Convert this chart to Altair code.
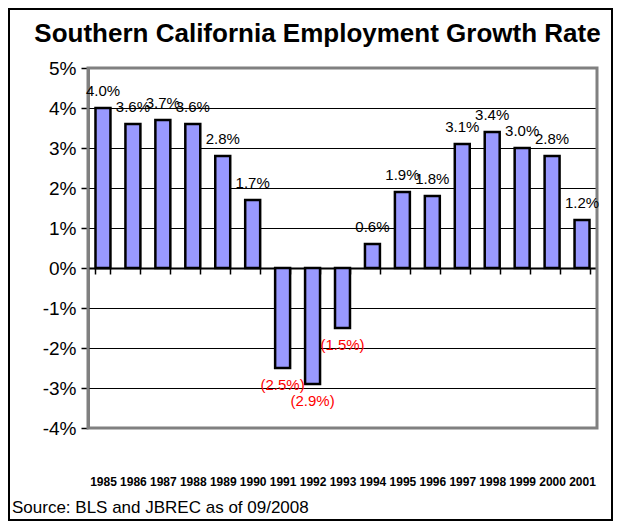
import altair as alt
import pandas as pd

years = [str(y) for y in range(1985, 2002)]
growth = [4.0, 3.6, 3.7, 3.6, 2.8, 1.7, -2.5, -2.9, -1.5, 0.6, 1.9, 1.8, 3.1, 3.4, 3.0, 2.8, 1.2]
y_ticks = [-4, -3, -2, -1, 0, 1, 2, 3, 4, 5]
title_text = ["Southern California Employment Growth Rate"]
source_text = ["Source: BLS and JBREC as of 09/2008"]

df = pd.DataFrame({"year": years, "growth": growth})
df["label"] = [f"{v:.1f}%" if v >= 0 else f"({abs(v):.1f}%)" for v in growth]

FONT = "Liberation Sans"
W, H = 509, 360
ymin, ymax = -4, 5
zero_offset = -(0 - ymin) / (ymax - ymin) * H

x = alt.X(
    "year:N", sort=years,
    scale=alt.Scale(paddingInner=0.5, paddingOuter=0.25),
    axis=alt.Axis(
        title=None, offset=zero_offset, grid=False,
        domainColor="black", domainWidth=2,
        tickColor="black", tickWidth=1.5, tickSize=6, tickBand="extent",
        labelAngle=0, labelFont=FONT, labelFontSize=12, labelFontWeight="bold",
        labelColor="black", labelPadding=202, labelBaseline="top",
    ),
)
y = alt.Y(
    "growth:Q",
    scale=alt.Scale(domain=[ymin, ymax], nice=False, zero=False),
    axis=alt.Axis(
        title=None, values=y_ticks, labelExpr="datum.value + '%'",
        grid=True, gridColor="black", gridWidth=1, labelOverlap=False,
        domainColor="black", domainWidth=2,
        tickColor="black", tickWidth=1.5, tickSize=7,
        labelFont=FONT, labelFontSize=19, labelColor="black", labelPadding=5,
    ),
)

border = alt.Chart(pd.DataFrame({"t": [0]})).mark_rect(
    fill=None, stroke="#808080", strokeWidth=3
).encode(x=alt.value(0), x2=alt.value(W), y=alt.value(0), y2=alt.value(H))

base = alt.Chart(df)
bars = base.mark_bar(fill="#9999FF", stroke="black", strokeWidth=2.5).encode(
    x=x, y=y, y2=alt.datum(0)
)
pos_lbl = base.transform_filter("datum.growth >= 0").mark_text(
    font=FONT, fontSize=15, color="black", baseline="alphabetic", dy=-12
).encode(x=x, y=y, text="label:N")
neg_lbl = base.transform_filter("datum.growth < 0").mark_text(
    font=FONT, fontSize=15, color="#FF0000", baseline="top", dy=10
).encode(x=x, y=y, text="label:N")

ttl = alt.Chart(pd.DataFrame({"t": title_text})).mark_text(
    font=FONT, fontSize=26, fontWeight="bold", color="black", align="center", baseline="alphabetic"
).encode(x=alt.value(W / 2 - 25), y=alt.value(-26), text="t:N")

src = alt.Chart(pd.DataFrame({"t": source_text})).mark_text(
    font=FONT, fontSize=17, color="black", align="left", baseline="alphabetic"
).encode(x=alt.value(-76), y=alt.value(445), text="t:N")

frame = alt.Chart(pd.DataFrame({"t": [0]})).mark_rect(
    fill=None, stroke="black", strokeWidth=2
).encode(x=alt.value(-79), x2=alt.value(W + 15), y=alt.value(-59), y2=alt.value(H + 92))

chart = alt.layer(border, bars, pos_lbl, neg_lbl, ttl, src, frame).properties(
    width=W, height=H,
    autosize=alt.AutoSizeParams(type="none"),
    padding={"left": 80, "top": 60, "right": 16, "bottom": 93},
).configure_view(stroke=None).configure(background="white")

chart.save("out.html", embed_options={"renderer": "svg", "actions": False})
